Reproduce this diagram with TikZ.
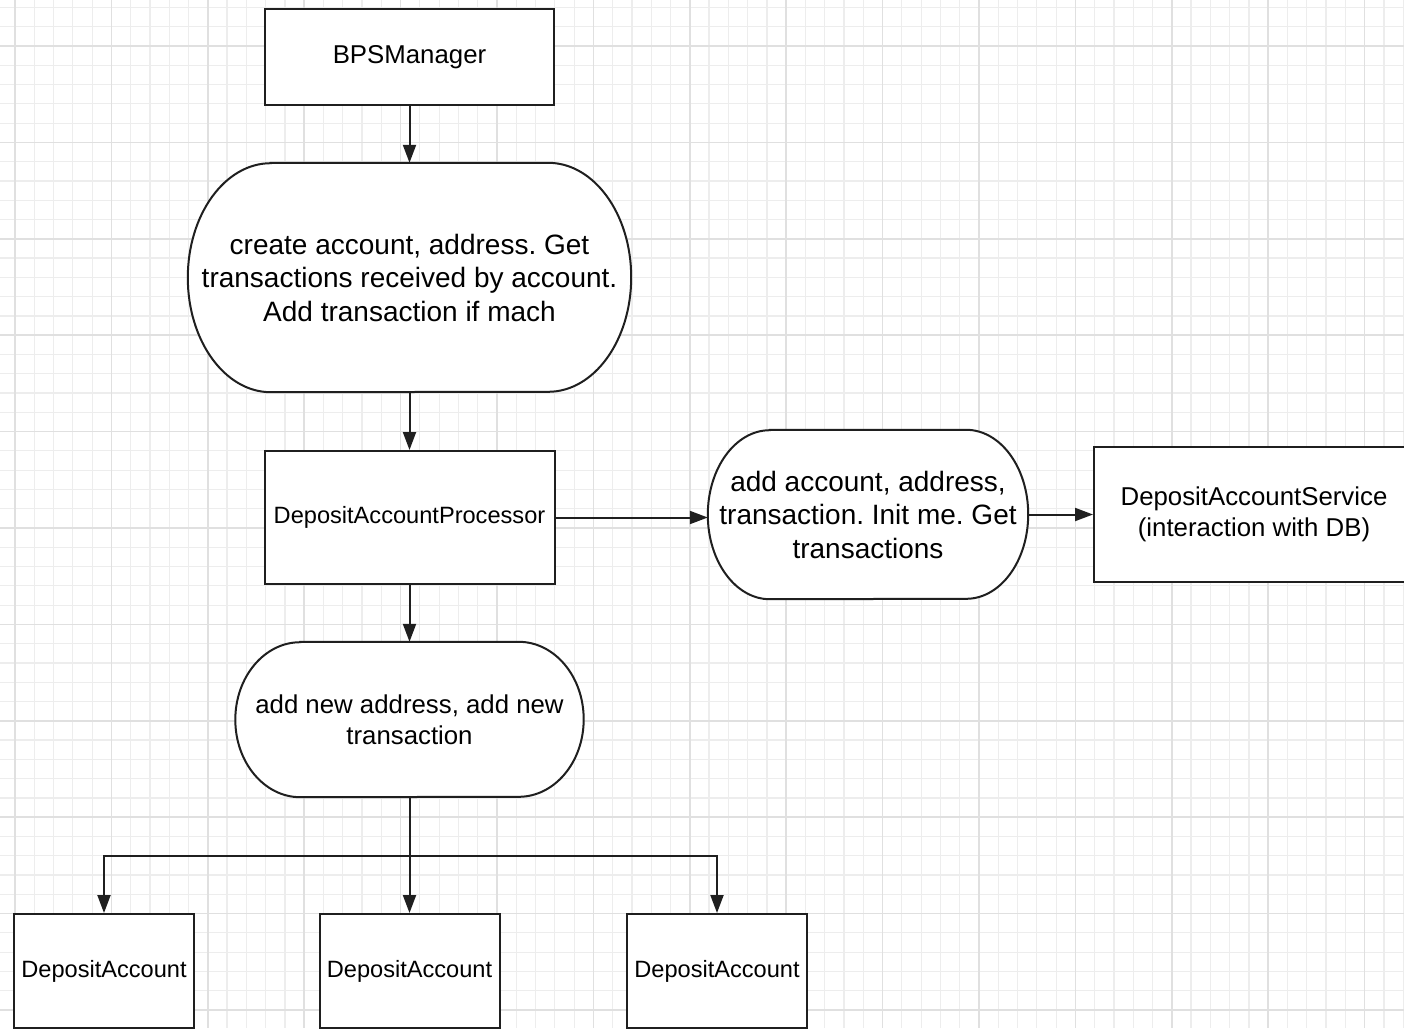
\documentclass[tikz,border=0pt]{standalone}
\usepackage{fontspec}
\setmainfont{Liberation Sans}
\frenchspacing
\usetikzlibrary{arrows.meta}
\usetikzlibrary{calc}
\pgfdeclarelayer{gridlayer}
\pgfdeclarelayer{shapelayer}
\pgfsetlayers{gridlayer,shapelayer,main}
\tikzset{
	boxnode/.style  = {shape=rectangle, draw=black!88, line width=2pt,
		fill=white, align=center, inner sep=0pt},
	pilltext/.style = {shape=rectangle, align=center, inner sep=0pt},
	pillline/.style = {draw=black!88, line width=2pt, fill=white},
	flow/.style     = {draw=black!88, line width=2pt,
		-{Triangle[length=18pt,width=13pt]}},
	gridminor/.style = {draw=black!7, line width=1.2pt},
	gridmajor/.style = {draw=black!12, line width=1.5pt},
	bigtext/.style   = {font=\fontsize{28}{33.5}\selectfont},
	midtext/.style   = {font=\fontsize{25.8}{31}\selectfont},
	smalltext/.style = {font=\fontsize{23.6}{28}\selectfont}
}

\begin{document}
\begin{tikzpicture}[x=1pt, y=1pt]
\useasboundingbox (0,0) rectangle (1404,-1028);

% background grid
\begin{pgfonlayer}{gridlayer}
\fill[white] (0,0) rectangle (1404,-1028);
\foreach \k in {-1,...,72}
	\draw[gridminor] ({15+19.28*\k},0) -- ({15+19.28*\k},-1028);
\foreach \k in {-3,...,51}
	\draw[gridminor] (0,{-46-19.28*\k}) -- (1404,{-46-19.28*\k});
\foreach \k in {0,...,14}
	\draw[gridmajor] ({15+96.4*\k},0) -- ({15+96.4*\k},-1028);
\foreach \k in {-1,...,10}
	\draw[gridmajor] (0,{-46-96.4*\k}) -- (1404,{-46-96.4*\k});
\end{pgfonlayer}

% boxes
\node [boxnode, midtext, minimum width=289, minimum height=96] (mgr) at (409.5,-57) {BPSManager};
\node [pilltext, bigtext, minimum width=443, minimum height=229] (ask) at (409.5,-277.5)
	{create account, address. Get\\transactions received by account.\\Add transaction if mach};
\node [boxnode, smalltext, minimum width=290, minimum height=133] (proc) at (409.5,-517.5) {DepositAccountProcessor};
\node [pilltext, bigtext, minimum width=320, minimum height=169] (store) at (868,-514.5)
	{add account, address,\\transaction. Init me. Get\\transactions};
\node [boxnode, midtext, minimum width=320, minimum height=135] (svc) at (1254,-514.5)
	{DepositAccountService\\(interaction with DB)};
\node [pilltext, midtext, minimum width=348, minimum height=155] (addnew) at (409.5,-719.5)
	{add new address, add new\\transaction};
\node [boxnode, smalltext, minimum width=180, minimum height=114] (acc1) at (104,-971) {DepositAccount};
\node [boxnode, smalltext, minimum width=180, minimum height=114] (acc2) at (409.5,-971) {DepositAccount};
\node [boxnode, smalltext, minimum width=180, minimum height=114] (acc3) at (717,-971) {DepositAccount};

% rounded outlines behind the text
\begin{pgfonlayer}{shapelayer}
\draw[pillline] ([xshift=83pt]ask.north west) -- ([xshift=-83pt]ask.north east)
	arc[start angle=90, end angle=-90, x radius=83pt, y radius=114.5pt]
	-- ([xshift=83pt]ask.south west)
	arc[start angle=270, end angle=90, x radius=83pt, y radius=114.5pt] -- cycle;
\draw[pillline] ([xshift=62pt]store.north west) -- ([xshift=-62pt]store.north east)
	arc[start angle=90, end angle=-90, x radius=62pt, y radius=84.5pt]
	-- ([xshift=62pt]store.south west)
	arc[start angle=270, end angle=90, x radius=62pt, y radius=84.5pt] -- cycle;
\draw[pillline] ([xshift=65pt]addnew.north west) -- ([xshift=-65pt]addnew.north east)
	arc[start angle=90, end angle=-90, x radius=65pt, y radius=77.5pt]
	-- ([xshift=65pt]addnew.south west)
	arc[start angle=270, end angle=90, x radius=65pt, y radius=77.5pt] -- cycle;
\end{pgfonlayer}

% connectors
\coordinate (split) at ($(addnew.south)+(0,-59)$);
\draw[flow] (mgr.south) -- (ask.north);
\draw[flow] (ask.south) -- (proc.north);
\draw[flow] (proc.east) -- (proc.east -| store.west);
\draw[flow] (store.east) -- (store.east -| svc.west);
\draw[flow] (proc.south) -- (addnew.north);
\draw[flow] (addnew.south) -- (acc2.north);
\draw[flow] (split) -| (acc1.north);
\draw[flow] (split) -| (acc3.north);
\end{tikzpicture}
\end{document}
